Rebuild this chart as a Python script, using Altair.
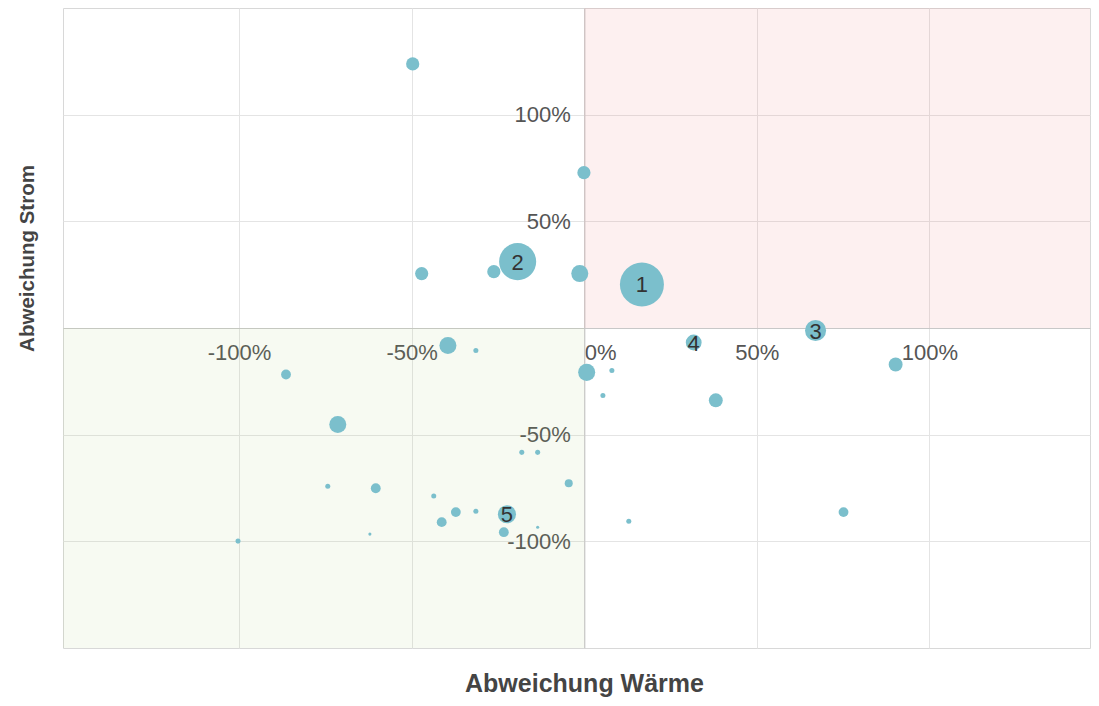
import altair as alt
import pandas as pd

# ---- data ----
waerme = [-0.497, -0.001, -0.471, -0.262, -0.193, -0.013, 0.167, 0.317, 0.670, -0.395,
          -0.314, -0.864, 0.007, 0.080, 0.054, 0.381, 0.902, -0.714, -0.181, -0.135,
          -0.045, -0.743, -0.604, -0.436, -0.372, -0.314, -0.413, -0.224, -0.233, -0.135,
          -0.621, -1.003, 0.129, 0.751]
strom = [1.238, 0.728, 0.255, 0.264, 0.311, 0.255, 0.204, -0.068, -0.012, -0.082,
         -0.105, -0.218, -0.208, -0.199, -0.316, -0.339, -0.171, -0.452, -0.583, -0.583,
         -0.728, -0.742, -0.751, -0.788, -0.863, -0.859, -0.910, -0.873, -0.957, -0.934,
         -0.966, -0.999, -0.906, -0.863]
verbrauch = [9, 9, 9, 9, 71, 15, 100, 13, 23, 15,
             1.3, 5, 15, 1.3, 1.3, 10, 10, 15, 1.3, 1.3,
             3.3, 1.3, 5, 1.3, 5, 1.3, 5, 17, 5, 0.5,
             0.5, 1.3, 1.3, 5]
nummer = ["", "", "", "", "2", "", "1", "4", "3", "",
          "", "", "", "", "", "", "", "", "", "",
          "", "", "", "", "", "", "", "5", "", "",
          "", "", "", ""]

quad_name = ["Mehrverbrauch", "Einsparung"]
quad_x = [0, -1.51]
quad_x2 = [1.465, 0]
quad_y = [0, -1.5]
quad_y2 = [1.5, 0]

x_ticks = [-1, -0.5, 0, 0.5, 1]
y_ticks = [-1, -0.5, 0.5, 1]

X_DOMAIN = [-1.51, 1.465]
Y_DOMAIN = [-1.5, 1.5]

W, H = 1027, 640

pts = pd.DataFrame({"waerme": waerme, "strom": strom,
                    "verbrauch": verbrauch, "nummer": nummer})
quads = pd.DataFrame({"name": quad_name, "x": quad_x, "x2": quad_x2,
                      "y": quad_y, "y2": quad_y2})

xscale = alt.Scale(domain=X_DOMAIN, nice=False, zero=False)
yscale = alt.Scale(domain=Y_DOMAIN, nice=False, zero=False)

label_expr = "(datum.value < 0 ? '-' : '') + format(abs(datum.value), '.0%')"

x_zero_px = W * (0 - X_DOMAIN[0]) / (X_DOMAIN[1] - X_DOMAIN[0])
y_zero_px = H * (Y_DOMAIN[1] - 0) / (Y_DOMAIN[1] - Y_DOMAIN[0])

x_axis = alt.Axis(
    values=x_ticks, labelExpr=label_expr, offset=-(H - y_zero_px),
    ticks=False, domain=True, domainColor="#c8c8c8", domainWidth=1.2,
    grid=True, gridColor="#e4e4e4", gridWidth=1,
    labelFont="Liberation Sans", labelFontSize=22, labelColor="#555555",
    labelPadding=14, labelFlush=False, labelOverlap=False,
    labelAlign={"condition": {"test": "datum.value === 0", "value": "left"}, "value": "center"},
    title="Abweichung Wärme", titleFont="Liberation Sans", titleFontSize=25,
    titleFontWeight="bold", titleColor="#444444",
    titleX=521, titleY=(698 - 8) - y_zero_px - 7, titleBaseline="alphabetic",
    titleAlign="center",
)

y_axis = alt.Axis(
    values=y_ticks, labelExpr=label_expr, offset=-x_zero_px,
    ticks=False, domain=True, domainColor="#c8c8c8", domainWidth=1.2,
    grid=True, gridColor="#e4e4e4", gridWidth=1,
    labelFont="Liberation Sans", labelFontSize=22, labelColor="#555555",
    labelPadding=14, labelFlush=False, labelOverlap=False,
    title="Abweichung Strom", titleFont="Liberation Sans", titleFontSize=20.5,
    titleFontWeight="bold", titleColor="#444444", titleAngle=-90,
    titleX=-(x_zero_px + 30), titleY=250, titleBaseline="alphabetic",
    titleAlign="center",
)

base_x = alt.X("x:Q", scale=xscale, axis=x_axis)
base_y = alt.Y("y:Q", scale=yscale, axis=y_axis)

bg = alt.Chart(quads).mark_rect(opacity=0.09, clip=True).encode(
    x=base_x, x2="x2:Q", y=base_y, y2="y2:Q",
    color=alt.Color("name:N", scale=alt.Scale(domain=quad_name,
                                              range=["#eb5555", "#a5c373"]),
                    legend=None),
)

bubbles = alt.Chart(pts).mark_circle(color="#7bbfcc", opacity=1).encode(
    x=alt.X("waerme:Q", scale=xscale, axis=x_axis),
    y=alt.Y("strom:Q", scale=yscale, axis=y_axis),
    size=alt.Size("verbrauch:Q", scale=alt.Scale(domain=[0, 100], range=[0, 1936]),
                  legend=None),
)

nums = alt.Chart(pts).transform_filter("datum.nummer != ''").mark_text(
    font="Liberation Sans", fontSize=22, color="#333333", align="center",
    baseline="middle", dy=1,
).encode(
    x=alt.X("waerme:Q", scale=xscale, axis=x_axis),
    y=alt.Y("strom:Q", scale=yscale, axis=y_axis),
    text="nummer:N",
)

chart = alt.layer(bg, bubbles, nums).properties(
    width=W, height=H,
    autosize=alt.AutoSizeParams(type="none"),
    padding={"left": 55, "top": 0, "right": 1, "bottom": 50},
    background="white",
).configure_view(stroke="#d8d8d8", strokeWidth=1)

chart.save("out.html", embed_options={"renderer": "svg", "actions": False})
